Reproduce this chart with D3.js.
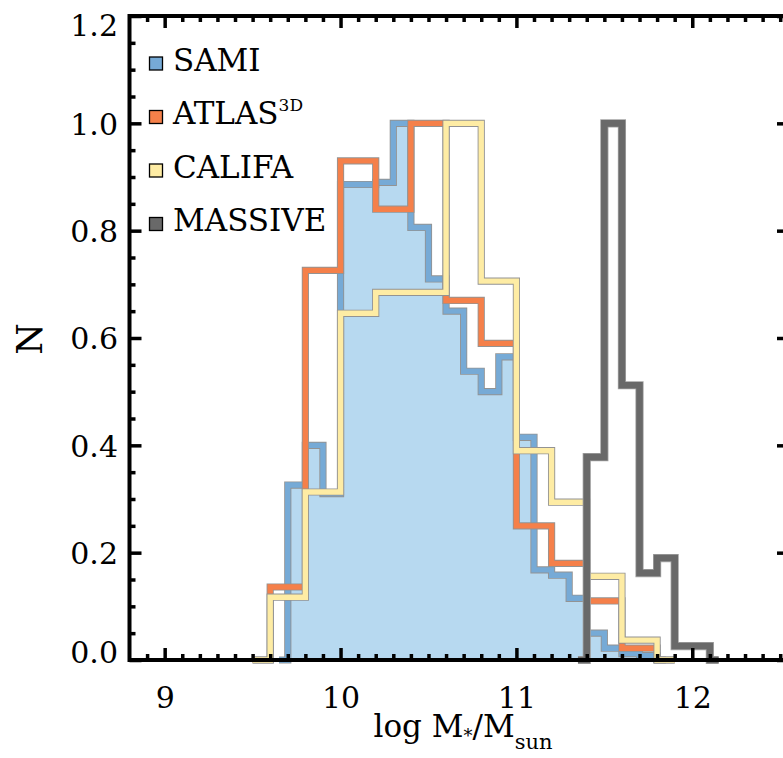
<!DOCTYPE html>
<html>
<head>
<meta charset="utf-8">
<script src="https://cdn.jsdelivr.net/npm/d3@7"></script>
<style>
  body { margin: 0; background: #fff; }
  svg { display: block; }
  text { font-family: "DejaVu Serif", serif; fill: #000; }
</style>
</head>
<body>
<svg id="chart" width="783" height="758"></svg>
<script>
// Normalised stellar-mass histograms (left bin edges and heights)
const samiLo    = [9.7, 9.8, 9.9, 10.0, 10.1, 10.2, 10.3, 10.4, 10.5, 10.6, 10.7, 10.8, 10.9, 11.0, 11.1, 11.2, 11.3, 11.4, 11.5, 11.6, 11.7];
const samiN     = [0.326, 0.40, 0.31, 0.886, 0.886, 0.89, 1.0, 0.806, 0.71, 0.65, 0.538, 0.50, 0.565, 0.415, 0.168, 0.158, 0.115, 0.05, 0.022, 0.012, 0.008];
const atlasLo   = [9.6, 9.8, 10.0, 10.2, 10.4, 10.6, 10.8, 11.0, 11.2, 11.4, 11.6];
const atlasN    = [0.136, 0.726, 0.93, 0.84, 1.0, 0.67, 0.59, 0.25, 0.18, 0.11, 0.022];
const califaLo  = [9.6, 9.8, 10.0, 10.2, 10.4, 10.6, 10.8, 11.0, 11.2, 11.4, 11.6];
const califaN   = [0.117, 0.313, 0.646, 0.685, 0.685, 1.0, 0.706, 0.39, 0.294, 0.156, 0.037];
const massiveLo = [11.4, 11.5, 11.6, 11.7, 11.8, 11.9, 12.0];
const massiveN  = [0.378, 1.0, 0.512, 0.162, 0.19, 0.026, 0.026];

const legendLabels = ["SAMI", "ATLAS", "CALIFA", "MASSIVE"];
const xMajorTicks = [9, 10, 11, 12];
const yMajorTicks = [0.0, 0.2, 0.4, 0.6, 0.8, 1.0, 1.2];

const seriesColors = ["#76aad6", "#f5804a", "#feeca4", "#696969"];
const samiFill = "#b7d9f0";

const svg = d3.select("#chart");

const x = d3.scaleLinear().domain([8.8, 12.55]).range([129.5, 789]);
const y = d3.scaleLinear().domain([0, 1.2]).range([660, 16]);

// Step outline: half-bin at zero on each side, like a histogram plotted at bin centres
function stepPoints(lo, n) {
  const w = lo[1] - lo[0];
  const pts = [[lo[0] - w / 2, 0]];
  lo.forEach((e, i) => pts.push([e, n[i]]));
  const end = lo[lo.length - 1] + w;
  pts.push([end, 0]);
  pts.push([end + w / 2, 0]);
  return pts;
}

const line = d3.line().x(d => x(d[0])).y(d => y(d[1])).curve(d3.curveStepAfter);
const area = d3.area().x(d => x(d[0])).y0(y(0)).y1(d => y(d[1])).curve(d3.curveStepAfter);

const series = [
  { pts: stepPoints(samiLo, samiN), color: seriesColors[0] },
  { pts: stepPoints(atlasLo, atlasN), color: seriesColors[1] },
  { pts: stepPoints(califaLo, califaN), color: seriesColors[2] },
  { pts: stepPoints(massiveLo, massiveN), color: seriesColors[3] }
];

const plot = svg.append("g");

plot.append("path")
  .attr("d", area(series[0].pts))
  .attr("fill", samiFill);

series.forEach((s, i) => {
  const wide = i === 3;
  plot.append("path")
    .attr("d", line(s.pts))
    .attr("fill", "none")
    .attr("stroke", wide ? "#a3a3a3" : "#939393")
    .attr("stroke-width", wide ? 8.2 : 7.2)
    .attr("stroke-linejoin", "miter");
  plot.append("path")
    .attr("d", line(s.pts))
    .attr("fill", "none")
    .attr("stroke", s.color)
    .attr("stroke-width", wide ? 6.6 : 5.4)
    .attr("stroke-linejoin", "miter");
});

// Axes: ticks on all four sides, pointing inward
const xMinor = d3.range(89, 126).map(d => d / 10).filter(v => !xMajorTicks.includes(Math.round(v * 10) / 10));
const yMinor = d3.range(1, 24).map(d => d / 20).filter(v => Math.abs(v * 5 - Math.round(v * 5)) > 1e-6);

const x0 = x.range()[0], x1 = x.range()[1];
const y0 = y.range()[0], y1 = y.range()[1];

function styleAxis(g) {
  g.select(".domain").remove();
  g.selectAll(".tick line").attr("stroke", "#000").attr("stroke-width", 3.5);
}

const tickFont = 30;

// bottom
svg.append("g").attr("transform", `translate(0,${y0})`)
  .call(d3.axisBottom(x).tickValues(xMinor).tickSize(-6).tickFormat(""))
  .call(styleAxis);
const bottom = svg.append("g").attr("transform", `translate(0,${y0})`)
  .call(d3.axisBottom(x).tickValues(xMajorTicks).tickSize(-12).tickFormat(d3.format("d")))
  .call(styleAxis);
bottom.selectAll(".tick text")
  .attr("y", 27).attr("dy", "0.71em")
  .attr("font-size", tickFont).attr("font-family", "DejaVu Serif").attr("fill", "#000");

// top
svg.append("g").attr("transform", `translate(0,${y1})`)
  .call(d3.axisTop(x).tickValues(xMinor).tickSize(-6).tickFormat(""))
  .call(styleAxis);
svg.append("g").attr("transform", `translate(0,${y1})`)
  .call(d3.axisTop(x).tickValues(xMajorTicks).tickSize(-12).tickFormat(""))
  .call(styleAxis);

// left
svg.append("g").attr("transform", `translate(${x0},0)`)
  .call(d3.axisLeft(y).tickValues(yMinor).tickSize(-6).tickFormat(""))
  .call(styleAxis);
const left = svg.append("g").attr("transform", `translate(${x0},0)`)
  .call(d3.axisLeft(y).tickValues(yMajorTicks).tickSize(-12).tickFormat(d3.format(".1f")))
  .call(styleAxis);
left.selectAll(".tick text")
  .attr("x", -11.5).attr("dy", "0.36em")
  .attr("font-size", tickFont).attr("font-family", "DejaVu Serif").attr("fill", "#000")
  .attr("y", d => d === 1.2 ? 9 : (d === 0 ? -8 : 0));

// right
svg.append("g").attr("transform", `translate(${x1},0)`)
  .call(d3.axisRight(y).tickValues(yMinor).tickSize(-6).tickFormat(""))
  .call(styleAxis);
svg.append("g").attr("transform", `translate(${x1},0)`)
  .call(d3.axisRight(y).tickValues(yMajorTicks).tickSize(-12).tickFormat(""))
  .call(styleAxis);

// frame
svg.append("rect")
  .attr("x", x0).attr("y", y1)
  .attr("width", x1 - x0).attr("height", y0 - y1)
  .attr("fill", "none").attr("stroke", "#000").attr("stroke-width", 4);

// axis titles
const xt = svg.append("text")
  .attr("x", 463).attr("y", 737)
  .attr("text-anchor", "middle")
  .attr("font-size", 31);
xt.append("tspan").text("log M");
xt.append("tspan").attr("font-size", 18).attr("dy", 5).text("*");
xt.append("tspan").attr("dy", -5).text("/M");
xt.append("tspan").attr("font-size", 21).attr("dy", 12).text("sun");

svg.append("text")
  .attr("transform", "translate(42,339) rotate(-90)")
  .attr("text-anchor", "middle")
  .attr("font-size", 36)
  .text("N");

// legend
const legend = svg.append("g");
legendLabels.forEach((name, i) => {
  const by = 70.5 + i * 53.5;
  legend.append("rect")
    .attr("x", 149.5).attr("y", by - 13.5)
    .attr("width", 13).attr("height", 13)
    .attr("fill", seriesColors[i])
    .attr("stroke", "#000").attr("stroke-width", 1.3);
  const t = legend.append("text")
    .attr("x", 173).attr("y", by)
    .attr("font-size", 31)
    .text(name);
  if (name === "ATLAS") {
    t.append("tspan").attr("font-size", 17).attr("dy", -13).text("3D");
  }
});
</script>
</body>
</html>
